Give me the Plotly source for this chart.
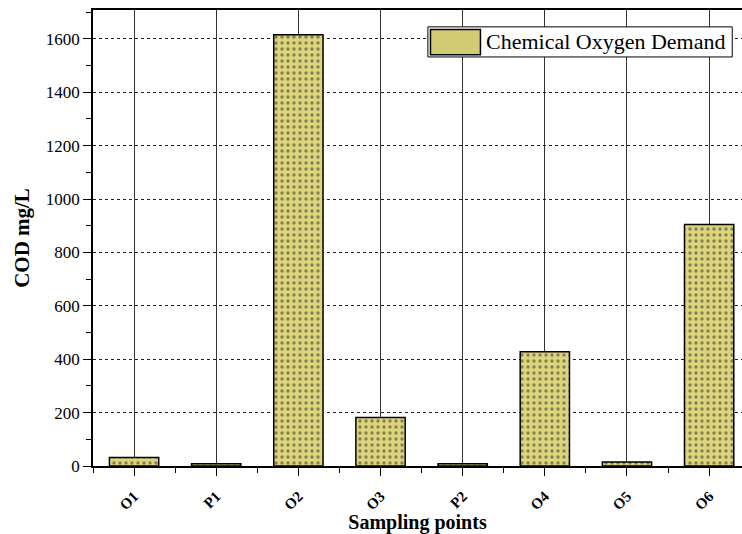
import plotly.graph_objects as go

categories = ["O1", "P1", "O2", "O3", "P2", "O4", "O5", "O6"]
cod_values = [32, 8, 1615, 182, 8, 428, 15, 905]
series_name = "Chemical Oxygen Demand"
y_ticks = [0, 200, 400, 600, 800, 1000, 1200, 1400, 1600]

bar_color = "#dcd57c"
font_serif = "Liberation Serif, Times New Roman, serif"

fig = go.Figure()
fig.add_trace(go.Bar(
    x=list(range(len(categories))),
    y=cod_values,
    name=series_name,
    width=0.6,
    marker=dict(
        color=bar_color,
        line=dict(color="black", width=1.5),
        pattern=dict(shape=".", fgcolor="#2a2a2a", bgcolor=bar_color, size=6, solidity=0.25),
    ),
    showlegend=False,
))

# custom legend box (paper coordinates)
fig.add_shape(type="rect", xref="paper", yref="paper",
              x0=0.516, x1=0.985, y0=0.897, y1=0.963,
              line=dict(color="black", width=1), fillcolor="white", layer="above")
fig.add_shape(type="rect", xref="paper", yref="paper",
              x0=0.520, x1=0.597, y0=0.902, y1=0.957,
              line=dict(color="black", width=1.5), fillcolor="#d3cb72", layer="above")
fig.add_annotation(xref="paper", yref="paper", x=0.603, y=0.930,
                   xanchor="left", yanchor="middle", showarrow=False,
                   text=series_name,
                   font=dict(family=font_serif, size=22, color="black"))

fig.update_layout(
    width=742, height=534,
    margin=dict(l=93, r=0, t=10, b=68),
    paper_bgcolor="white",
    plot_bgcolor="white",
    font=dict(family=font_serif, color="black", size=17),
    xaxis=dict(
        range=[-0.5, 7.4],
        tickmode="array",
        tickvals=list(range(len(categories))),
        ticktext=["<b>%s</b>" % c for c in categories],
        tickangle=-45,
        ticks="outside", ticklen=8, tickwidth=1, tickcolor="black",
        ticklabelstandoff=6,
        minor=dict(tickmode="array", tickvals=[i + 0.5 for i in range(-1, len(categories))],
                   ticks="outside", ticklen=5, tickcolor="black", showgrid=False),
        showline=True, linecolor="black", linewidth=1.5, mirror=True,
        showgrid=True, gridcolor="#333333", gridwidth=1,
        zeroline=False,
        title=dict(text="<b>Sampling points</b>", font=dict(family=font_serif, size=20), standoff=2),
        tickfont=dict(family=font_serif, size=15),
    ),
    yaxis=dict(
        range=[0, 1708],
        tickmode="array",
        tickvals=y_ticks,
        ticks="outside", ticklen=8, tickwidth=1, tickcolor="black",
        minor=dict(dtick=100, ticks="outside", ticklen=5, tickcolor="black", showgrid=False),
        showline=True, linecolor="black", linewidth=1.5,
        showgrid=True, gridcolor="#222222", gridwidth=1, griddash="dot",
        zeroline=False,
        title=dict(text="<b>COD mg/L</b>", font=dict(family=font_serif, size=21), standoff=10),
        tickfont=dict(family=font_serif, size=17),
    ),
)

fig.write_html("out.html")
